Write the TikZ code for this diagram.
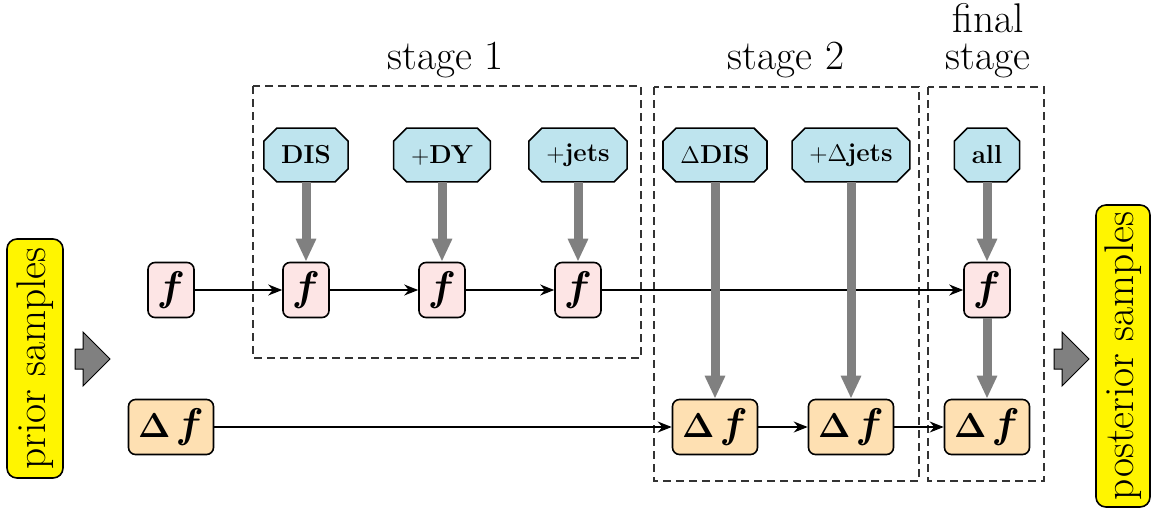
\documentclass[tikz,border=0pt]{standalone}
\usepackage{amsmath,bm}
\usetikzlibrary{arrows.meta,shapes.arrows,backgrounds}
\definecolor{fpink}{RGB}{253,229,229}
\definecolor{dforange}{RGB}{254,224,178}
\definecolor{lblue}{RGB}{190,228,238}
\definecolor{ybox}{RGB}{255,245,0}
\newcommand{\dsetframe}[1]{%
  \draw[octo] ([xshift=6.5pt]#1.north west) -- ([xshift=-6.5pt]#1.north east)
    -- ([yshift=-6.5pt]#1.north east) -- ([yshift=6.5pt]#1.south east)
    -- ([xshift=-6.5pt]#1.south east) -- ([xshift=6.5pt]#1.south west)
    -- ([yshift=6.5pt]#1.south west) -- ([yshift=-6.5pt]#1.north west) -- cycle;}
\newcommand{\dF}{{\LARGE$\boldsymbol{\Delta}$}\kern2.5pt$\boldsymbol{f}$}
\begin{document}
\begin{tikzpicture}[x=0.5pt,y=-0.5pt,
  fbox/.style={draw, line width=0.8pt, rounded corners=3.5pt, fill=fpink,
    minimum width=23pt, minimum height=27.5pt, inner sep=0pt, font=\huge},
  dfbox/.style={fbox, fill=dforange, minimum width=42.5pt},
  dset/.style={rectangle, inner xsep=8.5pt, inner ysep=0pt, minimum height=26.5pt,
    font=\fontsize{13}{15}\selectfont\bfseries},
  octo/.style={draw, line width=0.8pt, fill=lblue, line join=miter},
  flow/.style={-{Stealth[length=7pt,width=5.5pt]}, line width=0.8pt},
  feed/.style={-{Triangle[length=11.5pt,width=9.5pt]}, line width=4.5pt, draw=gray},
  stagebox/.style={draw=black!80, line width=0.6pt, dash pattern=on 4pt off 2.5pt},
  stagelabel/.style={font=\fontsize{20.74}{18.5}\selectfont, inner sep=0pt, anchor=south, align=center},
  sample/.style={draw, line width=0.8pt, fill=ybox, rounded corners=5pt, rotate=90,
    font=\huge, inner sep=0pt},
  bigarrow/.style={single arrow, draw, line width=0.5pt, fill=gray, inner xsep=0pt,
    inner ysep=4.75pt, minimum height=17.5pt, single arrow head extend=8.5pt}
]
\useasboundingbox (0,0) rectangle (1151,510);

% stage boxes
\draw[stagebox] (253,86) rectangle (641,358);
\draw[stagebox] (654,87) rectangle (919,481);
\draw[stagebox] (928,87) rectangle (1044,481);

% stage labels
\node[stagelabel] (lab1) at (445.5,78) {stage 1};
\node[stagelabel] (lab2) at (786,78) {stage 2};
\node[stagelabel] (lab3) at (988,78) {final\\stage};

% samples
\node[sample, minimum width=119.5pt, minimum height=28pt] (prior) at (35,358.5) {prior samples};
\node[sample, minimum width=151pt, minimum height=27pt] (post) at (1123,356) {posterior samples};
\node[bigarrow] (ain) at (87.5,359) {};
\node[bigarrow] (aout) at (1066.5,359) {};

% f row
\node[fbox] (f1) at (171,290) {$\boldsymbol{f}$};
\node[fbox] (f2) at (306,290) {$\boldsymbol{f}$};
\node[fbox] (f3) at (442,290) {$\boldsymbol{f}$};
\node[fbox] (f4) at (578,290) {$\boldsymbol{f}$};
\node[fbox] (f5) at (987,290) {$\boldsymbol{f}$};

% Delta f row
\node[dfbox] (d1) at (171,427) {\dF};
\node[dfbox] (d2) at (715,427) {\dF};
\node[dfbox] (d3) at (851,427) {\dF};
\node[dfbox] (d4) at (987,427) {\dF};

% data sets
\node[dset] (s1) at (306,155) {DIS};
\node[dset] (s2) at (442,155) {$+$DY};
\node[dset] (s3) at (578,155) {$+$jets};
\node[dset] (s4) at (715,155) {$\Delta$DIS};
\node[dset] (s5) at (851,155) {$+\Delta$jets};
\node[dset] (s6) at (987,155) {all};
\begin{scope}[on background layer]
  \dsetframe{s1}\dsetframe{s2}\dsetframe{s3}
  \dsetframe{s4}\dsetframe{s5}\dsetframe{s6}
\end{scope}

% flows
\draw[flow] (f1) -- (f2);
\draw[flow] (f2) -- (f3);
\draw[flow] (f3) -- (f4);
\draw[flow] (f4) -- (f5);
\draw[flow] (d1) -- (d2);
\draw[flow] (d2) -- (d3);
\draw[flow] (d3) -- (d4);

% feeds
\draw[feed] (s1) -- (f2);
\draw[feed] (s2) -- (f3);
\draw[feed] (s3) -- (f4);
\draw[feed] (s4) -- (d2);
\draw[feed] (s5) -- (d3);
\draw[feed] (s6) -- (f5);
\draw[feed] (f5) -- (d4);
\end{tikzpicture}
\end{document}
